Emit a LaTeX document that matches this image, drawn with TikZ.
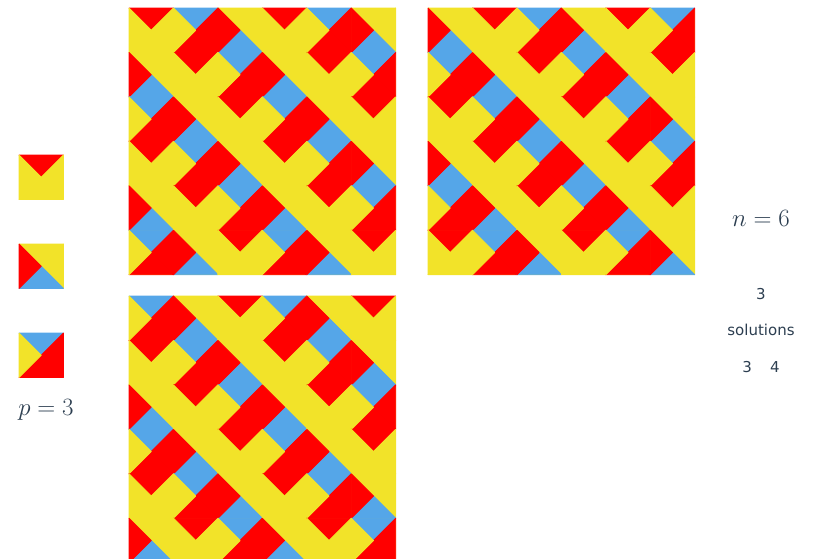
\documentclass[tikz,border=0pt]{standalone}
\usepackage{fontspec}
\setsansfont{DejaVu Sans}
\definecolor{tred}{RGB}{255,0,0}
\definecolor{tyel}{RGB}{242,227,41}
\definecolor{tblue}{RGB}{85,166,232}
\definecolor{labc}{RGB}{44,62,80}
\newcommand\ts{44.45}
\newcommand\wtile[6]{%
\filldraw[tri,fill=#3,draw=#3] (#1,#2) -- ++(\ts,0) -- ++(-\ts/2,\ts/2) -- cycle;
\filldraw[tri,fill=#4,draw=#4] (#1+\ts,#2) -- ++(0,\ts) -- ++(-\ts/2,-\ts/2) -- cycle;
\filldraw[tri,fill=#5,draw=#5] (#1+\ts,#2+\ts) -- ++(-\ts,0) -- ++(\ts/2,-\ts/2) -- cycle;
\filldraw[tri,fill=#6,draw=#6] (#1,#2+\ts) -- ++(0,-\ts) -- ++(\ts/2,\ts/2) -- cycle;
}
\newcommand\wtileidx[3]{\ifcase#3
\wtile{#1}{#2}{tred}{tyel}{tyel}{tyel}\or
\wtile{#1}{#2}{tyel}{tyel}{tblue}{tred}\or
\wtile{#1}{#2}{tblue}{tred}{tred}{tyel}\fi}
\begin{document}
\begin{tikzpicture}[x=1pt,y=-1pt,
  tri/.style={line width=0.9pt,line join=bevel},
  mathlab/.style={text=labc,font=\fontsize{25}{30}\selectfont,inner sep=0pt},
  sollab/.style={text=labc,font=\sffamily\fontsize{15}{18}\selectfont,inner sep=0pt}]
\useasboundingbox (0,0) rectangle (814,558);
\clip (0,0) rectangle (814,558);

\foreach \k/\py in {0/155,1/244,2/333}
  \wtileidx{19}{\py}{\k};

\foreach \gx/\gy/\ph in {129/8/0,428/8/1,129/296/2} {
  \fill[tyel] (\gx,\gy) rectangle ++(6*\ts,6*\ts);
  \foreach \r in {0,...,5}
    \foreach \c in {0,...,5} {
      \pgfmathtruncatemacro\k{mod(\ph+\r+2*\c,3)}
      \pgfmathsetmacro\tx{\gx+\c*\ts}
      \pgfmathsetmacro\ty{\gy+\r*\ts}
      \wtileidx{\tx}{\ty}{\k}
    }
}

\node[mathlab] (plab) at (46,410) {$p=3$};
\node[mathlab] (nlab) at (761,218) {$n=6$};
\node[sollab] (solnum) at (761,294) {3};
\node[sollab] (soltxt) at (761,330) {solutions};
\node[sollab] (solpair) at (761,367) {3\hspace{18pt}4};
\end{tikzpicture}
\end{document}
